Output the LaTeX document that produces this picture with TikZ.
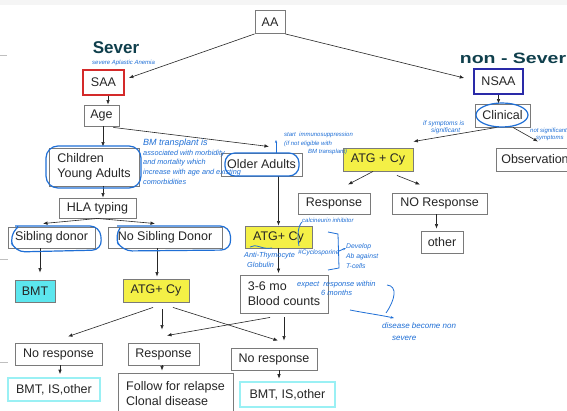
\documentclass[tikz,border=0pt]{standalone}
\usepackage{fontspec}
\setmainfont{Liberation Sans}
\usetikzlibrary{arrows.meta,calc}
\definecolor{boxgray}{HTML}{7A7A7A}
\definecolor{saared}{HTML}{D42A2A}
\definecolor{nsaablue}{HTML}{2A2AA8}
\definecolor{atgyellow}{HTML}{F4F046}
\definecolor{bmtcyan}{HTML}{5CE6EE}
\definecolor{cyanedge}{HTML}{9AF0F4}
\definecolor{inkblue}{HTML}{1F6FD6}
\definecolor{inkdark}{HTML}{0F3F4C}
\begin{document}
\begin{tikzpicture}[x=1pt,y=-1pt,
 box/.style={draw=boxgray, line width=0.9pt, inner sep=0pt, font=\fontsize{12.5}{15}\selectfont, text=black!85},
 arr/.style={-{Latex[length=4.5pt,width=3.5pt]}, line width=0.6pt, draw=black!85},
 ink/.style={draw=inkblue, line width=1.2pt},
 note/.style={text=inkblue, font=\fontsize{6}{7}\selectfont\itshape, inner sep=0pt, align=left},
 bignote/.style={text=inkdark, font=\fontsize{17}{17}\selectfont\bfseries, inner sep=0pt},
]
\useasboundingbox (0,0) rectangle (567,411);
\fill[white] (0,0) rectangle (567,411);
\fill[black!4] (0,0) rectangle (567,5);
\draw[black!25, line width=1pt] (0,56) -- (7,56) (0,260) -- (8,260) (0,362) -- (8,362);

% boxes
\node[box, minimum width=30pt, minimum height=23pt] (AA) at (270,22) {AA};
\node[box, draw=saared, line width=1.6pt, minimum width=41pt, minimum height=25pt] (SAA) at (103.5,82.5) {SAA};
\node[box, draw=nsaablue, line width=1.6pt, minimum width=49pt, minimum height=25pt] (NSAA) at (498.5,81.5) {NSAA};
\node[box, minimum width=35pt, minimum height=21pt] (Age) at (101.5,115.5) {Age};
\node[box, minimum width=55pt, minimum height=23pt] (Clin) at (502.5,115.5) {Clinical};
\node[box, minimum width=90pt, minimum height=38pt, align=left] (Child) at (94,167) {Children\\Young Adults};
\node[box, minimum width=81pt, minimum height=23pt] (Older) at (261.5,164.5) {Older Adults};
\node[box, fill=atgyellow, minimum width=70pt, minimum height=23pt] (ATGt) at (378,159.5) {ATG + Cy};
\node[box, minimum width=78pt, minimum height=23pt] (Obs) at (535,159.5) {Observation};
\node[box, minimum width=77pt, minimum height=20pt] (HLA) at (97.5,208) {HLA typing};
\node[box, minimum width=87pt, minimum height=21pt] (Sib) at (51.5,237.5) {Sibling donor};
\node[box, minimum width=114pt, minimum height=21pt] (NoSib) at (165,237.5) {No Sibling Donor};
\node[box, minimum width=72pt, minimum height=21pt] (RespT) at (334,203.5) {Response};
\node[box, minimum width=95pt, minimum height=21pt] (NoRespT) at (439.5,203.5) {NO Response};
\node[box, minimum width=42pt, minimum height=22pt] (Other) at (442,242) {other};
\node[box, fill=atgyellow, minimum width=67pt, minimum height=22pt] (ATGm) at (278.5,237) {ATG+ Cy};
\node[box, minimum width=88pt, minimum height=38pt, align=left] (Blood) at (284,294) {3-6 mo\\Blood counts};
\node[box, fill=bmtcyan, minimum width=40pt, minimum height=22pt] (BMT) at (35,291) {BMT};
\node[box, fill=atgyellow, minimum width=66pt, minimum height=23pt] (ATGb) at (156,290.5) {ATG+ Cy};
\node[box, minimum width=87pt, minimum height=22pt] (NRL) at (58.5,354) {No response};
\node[box, minimum width=71pt, minimum height=22pt] (RespB) at (163.5,354) {Response};
\node[box, minimum width=86pt, minimum height=22pt] (NRR) at (274,359) {No response};
\node[box, draw=cyanedge, line width=1.6pt, minimum width=92pt, minimum height=23pt] (BMTL) at (54,389.5) {BMT, IS,other};
\node[box, minimum width=115pt, minimum height=42pt, align=left] (Follow) at (175.5,394) {Follow for relapse\\Clonal disease};
\node[box, draw=cyanedge, line width=1.6pt, minimum width=95pt, minimum height=25pt] (BMTR) at (287.5,394.5) {BMT, IS,other};

% connectors
\draw[arr] (AA.south west) -- ($(SAA.east)+(4,-4.5)$);
\draw[arr] (AA.south east) -- ($(NSAA.west)+(-9,-3.5)$);
\draw[arr] ($(SAA.south)+(4.5,0)$) -- ($(Age.north)+(6.5,0)$);
\draw[arr] ($(Age.south)+(1.5,0)$) -- ($(Child.north)+(9,-1)$);
\draw[arr] ($(Age.south east)+(-6,1)$) -- ($(Older.north)+(7.5,-6)$);
\draw[arr] (NSAA.south) -- (NSAA.south |- Clin.north);
\draw[arr] ($(Clin.south)+(-6,0)$) -- ($(ATGt.north east)+(0,-6)$);
\draw[arr] ($(Clin.south)+(10.5,0)$) -- ($(Obs.north)+(3,-6)$);
\draw[arr] (ATGm.north |- Older.south) -- (ATGm.north);
\draw[arr] ($(Child.south)+(9,0)$) -- ($(HLA.north)+(5.5,0)$);
\draw[arr] (HLA.south) -- ($(Sib.north)+(-8.5,-3)$);
\draw[arr] (HLA.south) -- ($(NoSib.north)+(-10,-3)$);
\draw[arr] ($(ATGt.south)+(-5,0)$) -- ($(RespT.north)+(14,-8)$);
\draw[arr] ($(ATGt.south)+(19,4)$) -- ($(NoRespT.north)+(-19.5,-8)$);
\draw[arr] ($(NoRespT.south)+(-3,0)$) -- ($(Other.north)+(-5.5,-2)$);
\draw[arr] ($(Sib.south)+(-11.5,0)$) -- ($(BMT.north)+(5,-7)$);
\draw[arr] ($(NoSib.south)+(-8,0)$) -- ($(ATGb.north)+(1,-2)$);
\draw[arr] (ATGm.south) -- ($(ATGm.south |- Blood.north)+(0,-1.5)$);
\draw[arr] ($(ATGb.south)+(-3,5)$) -- ($(NRL.north)+(9.5,-6)$);
\draw[arr] ($(ATGb.south)+(6,7)$) -- ($(RespB.north)+(-1.5,-13)$);
\draw[arr] ($(ATGb.south)+(17,5)$) -- ($(NRR.north)+(4,-7)$);
\draw[arr] ($(Blood.south)+(-14,4)$) -- ($(RespB.north)+(3.5,-7)$);
\draw[arr] ($(Blood.south)+(0,4)$) -- ($(NRR.north)+(10,-7)$);
\draw[arr] ($(NRL.south)+(1.5,0)$) -- ($(BMTL.north)+(6,-3)$);
\draw[arr] ($(RespB.south)+(-1.5,0)$) -- ($(Follow.north)+(-13.5,-2)$);
\draw[arr] ($(NRR.south)+(5,0)$) -- ($(BMTR.north)+(-8.5,-2.5)$);

% hand-drawn circles
\draw[ink, rounded corners=12pt] (46,146) rectangle (141,188);
\draw[ink, rounded corners=10pt] (225,153) rectangle (299,176);
\draw[ink] (502,115) ellipse [x radius=26pt, y radius=12pt];
\draw[ink, rounded corners=10pt] (15,226) -- (100,226) -- (102,250) -- (15,252) -- (9,236) -- (18,227);
\draw[ink, rounded corners=10pt] (117,226) -- (230,226) -- (231,250) -- (122,251) -- (114,236) -- (120,228);

% handwritten notes
\node[bignote] (sev) at (116,48) {Sever};
\node[note, anchor=west, font=\fontsize{6}{7}\selectfont\itshape] (sevsub) at (92,63) {severe Aplastic Anemia};
\node[bignote, font=\fontsize{15}{15}\selectfont\bfseries, xscale=1.3] (nsev) at (513,58) {non - Sever};
\node[note, anchor=north west, font=\fontsize{7.3}{9.6}\selectfont\itshape] (bmnote) at (143,139)
  {{\fontsize{9}{9.6}\selectfont BM transplant is}\\associated with morbidity\\and mortality which\\increase with age and existing\\comorbidities};
\node[note, anchor=north west, font=\fontsize{6}{8.5}\selectfont\itshape] (startnote) at (284,132)
  {start \ immunosuppression\\(if not eligible with\\\hspace*{24pt}BM transplant)};
\draw[ink, line width=0.8pt, -{Stealth[length=3pt]}] (276,153) -- (276,140);
\node[note, anchor=north west, font=\fontsize{6.5}{7}\selectfont\itshape] (signote) at (423,121) {if symptoms is\\\hspace*{8pt}significant};
\node[note, anchor=north west, font=\fontsize{6}{7}\selectfont\itshape] (nsignote) at (530,128) {not significant\\\hspace*{6pt}symptoms};
\node[note, anchor=west] (calc) at (302,220) {calcineurin inhibitor};
\draw[ink, line width=0.8pt] (299,246) .. controls (297,236) and (298,226) .. (302,222);
\draw[ink, line width=0.8pt] (250,247) .. controls (256,243) and (262,250) .. (272,248);
\node[note, anchor=north west, font=\fontsize{7.3}{10}\selectfont\itshape] (antinote) at (244,252) {Anti-Thymocyte\\\hspace*{3pt}Globulin};
\node[note, anchor=west, font=\fontsize{6.5}{7}\selectfont\itshape] (cyclo) at (298,253) {\#Cyclosporine};
\draw[ink, line width=0.8pt] (328,232) -- (338,234) -- (339,268) -- (328,270);
\draw[ink, line width=0.8pt, -{Stealth[length=3pt]}] (339,251) -- (346,248);
\node[note, anchor=north west, font=\fontsize{6.8}{10}\selectfont\itshape] (devnote) at (346,243) {Develop\\Ab against\\T-cells};
\node[note, anchor=north west, font=\fontsize{7.5}{9}\selectfont\itshape] (expnote) at (297,281) {expect \ response within\\\hspace*{24pt}6 months};
\draw[ink, line width=0.8pt, -{Stealth[length=3.5pt]}] (350,310) .. controls (365,313) and (380,315) .. (394,318);
\draw[ink, line width=0.8pt] (387,285) .. controls (398,286) and (395,300) .. (386,313);
\node[note, anchor=north west, font=\fontsize{8}{12}\selectfont\itshape] (disnote) at (382,323) {disease become non\\\hspace*{10pt}severe};
\end{tikzpicture}
\end{document}
